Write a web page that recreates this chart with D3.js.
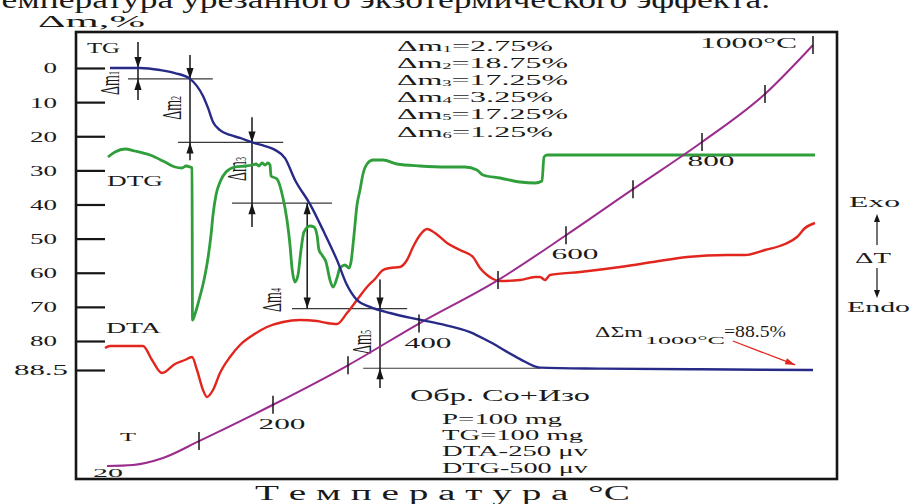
<!DOCTYPE html>
<html>
<head>
<meta charset="utf-8">
<script src="https://cdn.jsdelivr.net/npm/d3@7"></script>
<style>
  html, body { margin: 0; padding: 0; background: #fff; overflow: hidden; }
  svg { display: block; }
  text { font-family: "Liberation Serif", "DejaVu Serif", serif; fill: #1a1a1a; }
</style>
</head>
<body>
<svg id="chart" width="916" height="504"></svg>
<script>
// ---- Derivatogram of sample Co+Izo: TG, DTG, DTA and T traces against heating time (min) ----

// TG: mass loss, %
const tgTime = [1.25, 5, 7.5, 9.375, 11.25, 12.125, 12.875, 13.5, 14.125, 15, 16.25, 17.5, 19, 20.625, 21.875,
  23.125, 24.375, 26.25, 27.875, 29.625, 30.875, 32.125, 33.75, 36.25, 39.625, 42.5, 46.25, 48.75, 52.5, 55,
  62.5, 75, 89.125];
const tgLoss = [0, 0, 0.6, 1.5, 3.2, 5.3, 8.2, 11.7, 15.8, 18.2, 19.6, 20.5, 21.8, 22.9, 24.0,
  26.4, 32.8, 39.9, 47.5, 56.3, 63.6, 68.0, 70.0, 71.8, 73.6, 75.0, 77.4, 80.3, 85.3, 87.8,
  88.1, 88.3, 88.5];

// DTG: rate of mass change, μV (negative = loss)
const dtgTime = [1, 1.875, 3.125, 4.375, 6.25, 8.125, 9.375, 10.25, 10.75, 11.25, 11.5, 11.5625, 11.875, 12.375,
  13, 13.5, 13.875, 14.125, 14.5, 15, 15.75, 16.875, 18.125, 19, 19.5, 19.875, 20.25, 20.625, 21, 21.25,
  21.375, 22.125, 22.875, 23.375, 23.75, 24, 24.375, 24.75, 25.125, 25.5, 26.25, 26.75, 27.125, 27.375,
  27.75, 28.25, 28.75, 29.125, 29.625, 30, 30.625, 31.125, 31.375, 31.75, 32.125, 32.5, 32.875, 33.375,
  34.125, 35.375, 37.125, 40, 43.375, 45.625, 47.125, 47.875, 50, 52.5, 54.375, 55.25, 55.5, 55.875,
  62.5, 89.375];
const dtgSignal = [-1, 1.5, 3, 2, 0, -3.5, -6, -6.5, -5.5, -6, -6.5, -82.5, -79.5, -72.5,
  -62.5, -51.5, -40, -30, -20, -13.5, -8.5, -6, -5.5, -5, -4.5, -5.5, -4, -5, -4, -5,
  -10.5, -12, -21.5, -32.5, -45, -56.5, -63.5, -60, -47.5, -38.5, -35.5, -36, -40, -47.5,
  -50, -53.5, -62.5, -66, -61.5, -56.5, -55, -56.5, -53.5, -40, -25, -17.5, -9.5, -4.5,
  -2.5, -2.5, -4.5, -5.5, -6, -6, -7.5, -10, -11.5, -13.5, -14, -13, -1, 0,
  0, 0];

// DTA: temperature difference, μV (positive = exo)
const dtaTime = [0.625, 1.25, 5.375, 6.5, 7.75, 9.375, 10.625, 11.5, 12.125, 12.875, 13.375, 14.125, 15,
  16.25, 17.5, 19.125, 20.875, 22.875, 25, 27.125, 28.375, 29.625, 30.875, 32.125, 33.375, 34.375,
  35.375, 36.25, 37.5, 38.375, 39.125, 40, 40.875, 41.875, 43.375, 45, 46.625, 47.5, 48.375, 49.125,
  50, 52.5, 54.375, 55, 55.625, 56.25, 60, 65, 69.125, 73.375, 78.375, 80.625, 83.125, 85.625,
  87.125, 88.125, 89.375];
const dtaSignal = [-1.5, -0.5, -0.5, -7.5, -14, -9.5, -7.5, -6, -12.5, -22.5, -26, -22.5, -14,
  -6, 0, 5, 9, 11.5, 12.5, 12, 11, 10.5, 16, 22.5, 29, 33,
  37.5, 38.5, 39, 42.5, 49, 55, 58, 56, 51, 47.5, 44, 38.5, 35, 33,
  32, 32.5, 34, 34, 32.5, 35, 36.5, 39, 41.5, 44, 45, 45, 47.5, 50.5,
  54, 58.5, 61];

// T: furnace temperature, °C
const tTime = [0.875, 4.125, 7.875, 12.375, 21.625, 31, 39.875, 49.75, 58.25, 66.625, 75.25, 83.125, 89.125];
const tTemp = [20, 24, 48, 100, 200, 300, 400, 500, 600, 700, 800, 900, 1000];
const tempLabels = [200, 400, 600, 800];

// Mass-loss axis ticks, %
const lossTicks = [0, 10, 20, 30, 40, 50, 60, 70, 80, 88.5];

// Mass-loss steps: guide levels (%), guide spans (min), double-arrow placement
const stepLevel = [0, 3.2, 21.8, 39.6, 70.5, 88.0];
const guideStart = [3.5, 9.75, 16.5, 24, 32.9];
const guideEnd = [14.1, 22.9, 29, 38.4, 55];
const arrowTime = [4.75, 11.25, 19, 25.9, 35];
const arrowTop = [-7.6, -3.8, 14.4, 39.6, 62];
const arrowBottom = [9.4, 27, 46.6, 70.5, 93.8];
const arrowOutside = [true, true, true, false, true];
const stepLabelTime = [1.25, 9, 17.1, 21.5, 32.75];
const stepLabelLoss = [4.4, 11.7, 29.6, 68, 80.3];

// Stated step losses, %
const stepNames = ["1", "2", "3", "4", "5", "6"];
const stepValues = ["2.75", "18.75", "17.25", "3.25", "17.25", "1.25"];
const totalLoss = "88.5";

// ---- scales ----
const x = d3.scaleLinear().domain([0, 90]).range([100, 820]);
const yLoss = d3.scaleLinear().domain([0, 88.5]).range([68, 370]);
const yDTG = d3.scaleLinear().domain([0, -100]).range([155, 355]);
const yDTA = d3.scaleLinear().domain([0, 100]).range([345, 145]);
const yTemp = d3.scalePow().exponent(1.16).domain([20, 1000]).range([466, 45]);

const svg = d3.select("#chart");
const ink = "#161616";

// text helper: widths are fixed to the drawn layout, glyphs stretch with them
function label(parent, parts, px, py, w, fs, anchor) {
  const t = parent.append("text").attr("x", px).attr("y", py)
    .attr("font-size", fs).attr("text-anchor", anchor || "start");
  if (typeof parts === "string") t.text(parts);
  else parts.forEach(p => {
    const s = t.append("tspan").text(p.t);
    if (p.fs) s.attr("font-size", p.fs);
    if (p.dy) s.attr("dy", p.dy);
  });
  if (w) t.attr("textLength", w).attr("lengthAdjust", "spacingAndGlyphs");
  return t;
}

function head(g, hx, hy, angle, len, half, color) {
  // arrowhead with tip at (hx, hy) pointing along angle
  const ca = Math.cos(angle), sa = Math.sin(angle);
  const bx = hx - ca * len, by = hy - sa * len;
  g.append("path")
    .attr("d", `M${hx},${hy}L${bx - sa * half},${by + ca * half}L${bx + sa * half},${by - ca * half}Z`)
    .attr("fill", color);
}

// heading line of the page text above the figure
label(svg, "температура урезанного экзотермического эффекта.", -14, 8, 784, 26);

// axis caption
label(svg, "Δm,%", 38, 27, 107, 16);

// frame
svg.append("rect").attr("x", 76).attr("y", 32).attr("width", 761).attr("height", 447)
  .attr("fill", "none").attr("stroke", ink).attr("stroke-width", 2.6);

// mass-loss axis
const fmt = d3.format("~g");
const ga = svg.append("g").attr("transform", "translate(77,0)")
  .call(d3.axisLeft(yLoss).tickValues(lossTicks).tickSizeInner(-28).tickSizeOuter(0)
    .tickPadding(20).tickFormat(fmt));
ga.select(".domain").remove();
ga.selectAll(".tick line").attr("stroke", ink).attr("stroke-width", 2.2);
ga.selectAll(".tick text").attr("font-size", 15.5).attr("fill", "#1a1a1a")
  .attr("textLength", d => fmt(d).length * 13.5).attr("lengthAdjust", "spacingAndGlyphs")
  .attr("dx", d => Number.isInteger(d) ? 0 : 11);

// ---- step guides and arrows ----
const ann = svg.append("g");
stepLevel.slice(1).forEach((lv, i) => {
  ann.append("line").attr("x1", x(guideStart[i])).attr("x2", x(guideEnd[i]))
    .attr("y1", yLoss(lv)).attr("y2", yLoss(lv)).attr("stroke", "#3a3a3a").attr("stroke-width", 1.1);
});
arrowTime.forEach((t, i) => {
  const ax = x(t);
  ann.append("line").attr("x1", ax).attr("x2", ax)
    .attr("y1", yLoss(arrowTop[i])).attr("y2", yLoss(arrowBottom[i]))
    .attr("stroke", ink).attr("stroke-width", 1.5);
  const a = yLoss(stepLevel[i]), b = yLoss(stepLevel[i + 1]);
  if (arrowOutside[i]) {
    head(ann, ax, a, Math.PI / 2, 11, 3.6, ink);
    head(ann, ax, b, -Math.PI / 2, 11, 3.6, ink);
  } else {
    head(ann, ax, a, -Math.PI / 2, 11, 3.6, ink);
    head(ann, ax, b, Math.PI / 2, 11, 3.6, ink);
  }
  ann.append("text")
    .attr("transform", `translate(${x(stepLabelTime[i])},${yLoss(stepLabelLoss[i])}) scale(1.95,1) rotate(-90)`)
    .attr("text-anchor", "middle").attr("dominant-baseline", "central").attr("font-size", 14)
    .call(s => {
      s.append("tspan").text("Δm");
      s.append("tspan").text(stepNames[i]).attr("font-size", 8).attr("dy", 2);
    });
});

// ---- traces ----
const lineGen = yS => d3.line().x(d => x(d[0])).y(d => yS(d[1])).curve(d3.curveMonotoneX);

svg.append("path").datum(d3.zip(dtaTime, dtaSignal)).attr("d", lineGen(yDTA))
  .attr("fill", "none").attr("stroke", "#e2261e").attr("stroke-width", 2.4).attr("stroke-linejoin", "round");
svg.append("path").datum(d3.zip(dtgTime, dtgSignal)).attr("d", lineGen(yDTG))
  .attr("fill", "none").attr("stroke", "#2f9e3b").attr("stroke-width", 2.8).attr("stroke-linejoin", "round");
svg.append("path").datum(d3.zip(tTime, tTemp)).attr("d", lineGen(yTemp))
  .attr("fill", "none").attr("stroke", "#9b2c8e").attr("stroke-width", 2);
svg.append("path").datum(d3.zip(tgTime, tgLoss)).attr("d", lineGen(yLoss))
  .attr("fill", "none").attr("stroke", "#272a86").attr("stroke-width", 2.4).attr("stroke-linejoin", "round");

// temperature marks every 100 °C
const tPts = d3.zip(tTime, tTemp);
svg.append("g").selectAll("line").data(tPts.filter(d => d[1] % 100 === 0)).join("line")
  .attr("x1", d => x(d[0])).attr("x2", d => x(d[0]))
  .attr("y1", d => yTemp(d[1]) - 9).attr("y2", d => yTemp(d[1]) + 9)
  .attr("stroke", ink).attr("stroke-width", 1.5);
tPts.filter(d => tempLabels.includes(d[1])).forEach(d => {
  label(svg, String(d[1]), x(d[0]) + 9, yTemp(d[1]) + 24, 47, 15.5, "middle");
});
const tEnd = tPts[tPts.length - 1], tStart = tPts[0];
label(svg, tEnd[1] + "°C", x(tEnd[0]) - 16, yTemp(tEnd[1]) + 3, 97, 15.5, "end");
label(svg, String(tStart[1]), x(tStart[0]) + 1, yTemp(tStart[1]) + 11, 30, 13, "middle");

// trace names
label(svg, "TG", 87, 53, 33, 15);
label(svg, "DTG", 107, 186, 56, 15);
label(svg, "DTA", 106, 333, 55, 15);
label(svg, "T", 120, 441, 16, 12);

// stated step losses
stepValues.forEach((v, i) => {
  label(svg, [{ t: "Δm" }, { t: stepNames[i], fs: 9, dy: 1 }, { t: "=" + v + "%", dy: -1 }],
    397, 51 + i * 17.1, (v.length > 4 ? 171 : 156), 15.5);
});

// total loss note with pointer to the TG end
label(svg, "ΔΣm", 595, 337, 48, 15.5);
label(svg, "1000°C", 645, 344, 80, 11);
label(svg, "=" + totalLoss + "%", 724, 337, 62, 16.5);
const p0 = [x(79.1), yLoss(80)], p1 = [x(86.9), yLoss(87)];
svg.append("line").attr("x1", p0[0]).attr("y1", p0[1]).attr("x2", p1[0]).attr("y2", p1[1])
  .attr("stroke", "#e2261e").attr("stroke-width", 1.3);
head(svg, p1[0], p1[1], Math.atan2(p1[1] - p0[1], p1[0] - p0[0]), 10, 3.2, "#e2261e");

// sample block
label(svg, "Обр. Со+Изо", 410, 401, 180, 17);
label(svg, "P=100 mg", 442, 424, 120, 14);
label(svg, "TG=100 mg", 442, 440, 141, 14);
label(svg, "DTA-250 μv", 442, 456, 146, 14);
label(svg, "DTG-500 μv", 442, 473, 146, 14);

// horizontal caption
label(svg, "Т е м п е р а т у р а \u00A0°C", 255, 500, 375, 20);

// DTA direction key
label(svg, "Exo", 849, 207, 51, 14);
label(svg, "ΔT", 855, 263, 36, 14);
label(svg, "Endo", 847, 312, 63, 14);
svg.append("line").attr("x1", 877).attr("x2", 877).attr("y1", 245).attr("y2", 220).attr("stroke", ink).attr("stroke-width", 1.2);
head(svg, 877, 214, -Math.PI / 2, 8, 3, ink);
svg.append("line").attr("x1", 877).attr("x2", 877).attr("y1", 268).attr("y2", 292).attr("stroke", ink).attr("stroke-width", 1.2);
head(svg, 877, 298, Math.PI / 2, 8, 3, ink);
</script>
</body>
</html>
